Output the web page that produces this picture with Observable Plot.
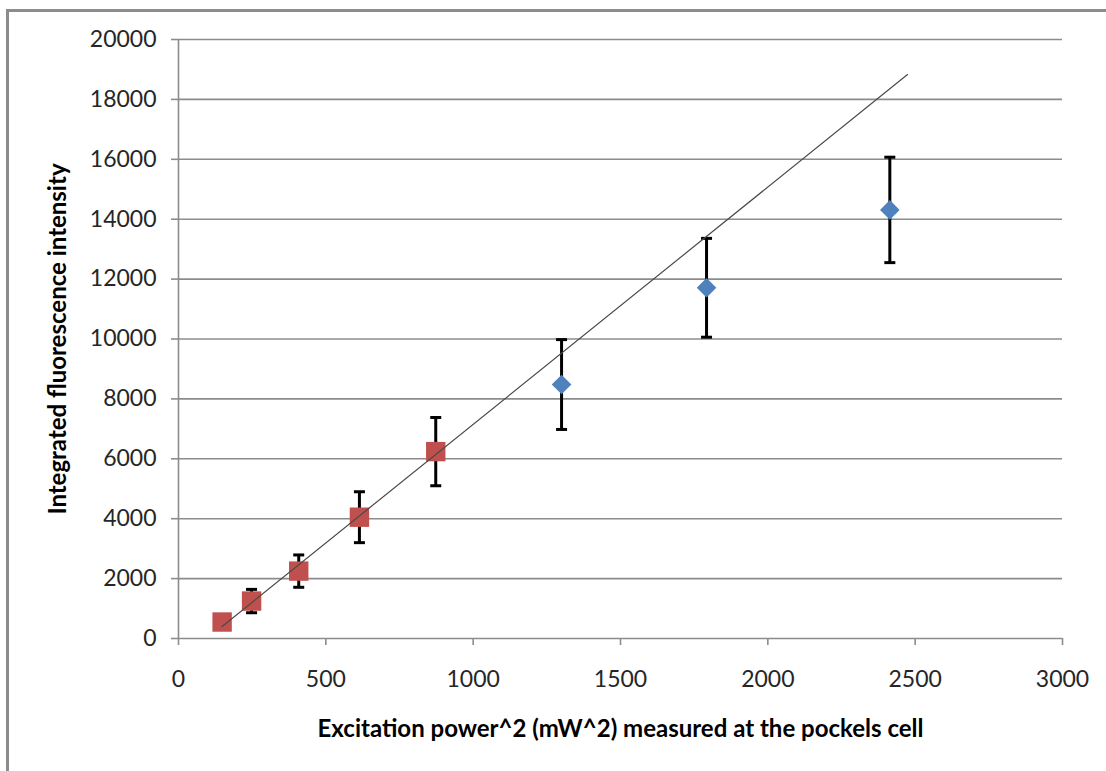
<!DOCTYPE html>
<html>
<head>
<meta charset="utf-8">
<script src="https://cdn.jsdelivr.net/npm/d3@7"></script>
<script src="https://cdn.jsdelivr.net/npm/@observablehq/plot@0.6"></script>
<style>
  html, body { margin: 0; padding: 0; background: #fff; }
  #wrap { position: relative; width: 1106px; height: 771px; overflow: hidden; }
  #frame { position: absolute; left: 6px; top: 9px; width: 1200px; height: 900px;
           border-left: 3px solid #8c8c8c; border-top: 3px solid #8c8c8c; pointer-events: none; }
  #wrap svg g[aria-label="y-axis tick"] path,
  #wrap svg g[aria-label="x-axis tick"] path,
  #wrap svg g[aria-label="y-axis"] line,
  #wrap svg g[aria-label="x-axis"] line { stroke: #8c8c8c; stroke-width: 1.6; }
</style>
</head>
<body>
<div id="wrap"><div id="frame"></div></div>
<script>
// ---- data ----
const redX   = [148, 248, 408, 614, 873];
const redY   = [550, 1250, 2250, 4050, 6240];
const redErr = [200, 390, 540, 850, 1140];

const blueX   = [1300, 1792, 2414];
const blueY   = [8480, 11710, 14310];
const blueErr = [1500, 1650, 1760];

const trendX = [148, 2474];
const trendY = [400, 18830];

const xTicks = [0, 500, 1000, 1500, 2000, 2500, 3000];
const yTicks = [0, 2000, 4000, 6000, 8000, 10000, 12000, 14000, 16000, 18000, 20000];

const xTitle = "Excitation power^2 (mW^2) measured at the pockels cell";
const yTitle = "Integrated fluorescence intensity";

// ---- tables built from the arrays ----
const red  = redX.map((x, i) => ({x, y: redY[i], lo: redY[i] - redErr[i], hi: redY[i] + redErr[i]}));
const blue = blueX.map((x, i) => ({x, y: blueY[i], lo: blueY[i] - blueErr[i], hi: blueY[i] + blueErr[i]}));
const all  = red.concat(blue);
const trend = trendX.map((x, i) => ({x, y: trendY[i]}));

const capSymbol = { draw(ctx) { ctx.moveTo(-5.5, 0); ctx.lineTo(5.5, 0); } };
const squareSymbol = { draw(ctx) { const h = 9.7; ctx.moveTo(-h, -h); ctx.lineTo(h, -h); ctx.lineTo(h, h); ctx.lineTo(-h, h); ctx.closePath(); } };
const diamondSymbol = { draw(ctx) { const h = 9.8; ctx.moveTo(0, -h); ctx.lineTo(h, 0); ctx.lineTo(0, h); ctx.lineTo(-h, 0); ctx.closePath(); } };

const font = "Lato, 'Open Sans', sans-serif";

const chart = Plot.plot({
  width: 1106,
  height: 771,
  marginLeft: 178,
  marginRight: 44,
  marginTop: 39,
  marginBottom: 133,
  style: { fontFamily: font, fontSize: "23px", color: "#262626", background: "transparent", overflow: "visible" },
  x: { domain: [0, 3000], ticks: xTicks, tickSize: 7, tickPadding: 25, tickFormat: d => String(d), label: null },
  y: { domain: [0, 20000], ticks: yTicks, tickSize: 7, tickPadding: 15, tickFormat: d => String(d), label: null },
  marks: [
    Plot.ruleY(yTicks, { stroke: "#8c8c8c", strokeWidth: 1.6 }),
    Plot.ruleX([0], { stroke: "#8c8c8c", strokeWidth: 1.6 }),
    Plot.ruleX(all, { x: "x", y1: "lo", y2: "hi", stroke: "#000", strokeWidth: 3 }),
    Plot.dot(all, { x: "x", y: "lo", symbol: capSymbol, fill: "none", stroke: "#000", strokeWidth: 3 }),
    Plot.dot(all, { x: "x", y: "hi", symbol: capSymbol, fill: "none", stroke: "#000", strokeWidth: 3 }),
    Plot.dot(red, { x: "x", y: "y", symbol: squareSymbol, fill: "#C0504D", stroke: "none" }),
    Plot.dot(blue, { x: "x", y: "y", symbol: diamondSymbol, fill: "#4F81BD", stroke: "none" }),
    Plot.line(trend, { x: "x", y: "y", stroke: "#4a4a4a", strokeWidth: 1.2 }),
    Plot.text([yTitle], { frameAnchor: "left", textAnchor: "middle", dx: -120, rotate: -90, fontWeight: "bold", fontSize: 24, fill: "#000" }),
    Plot.text([xTitle], { frameAnchor: "bottom", textAnchor: "middle", dy: 98, fontWeight: "bold", fontSize: 24, fill: "#000" })
  ]
});
document.getElementById("wrap").appendChild(chart);
</script>
</body>
</html>
